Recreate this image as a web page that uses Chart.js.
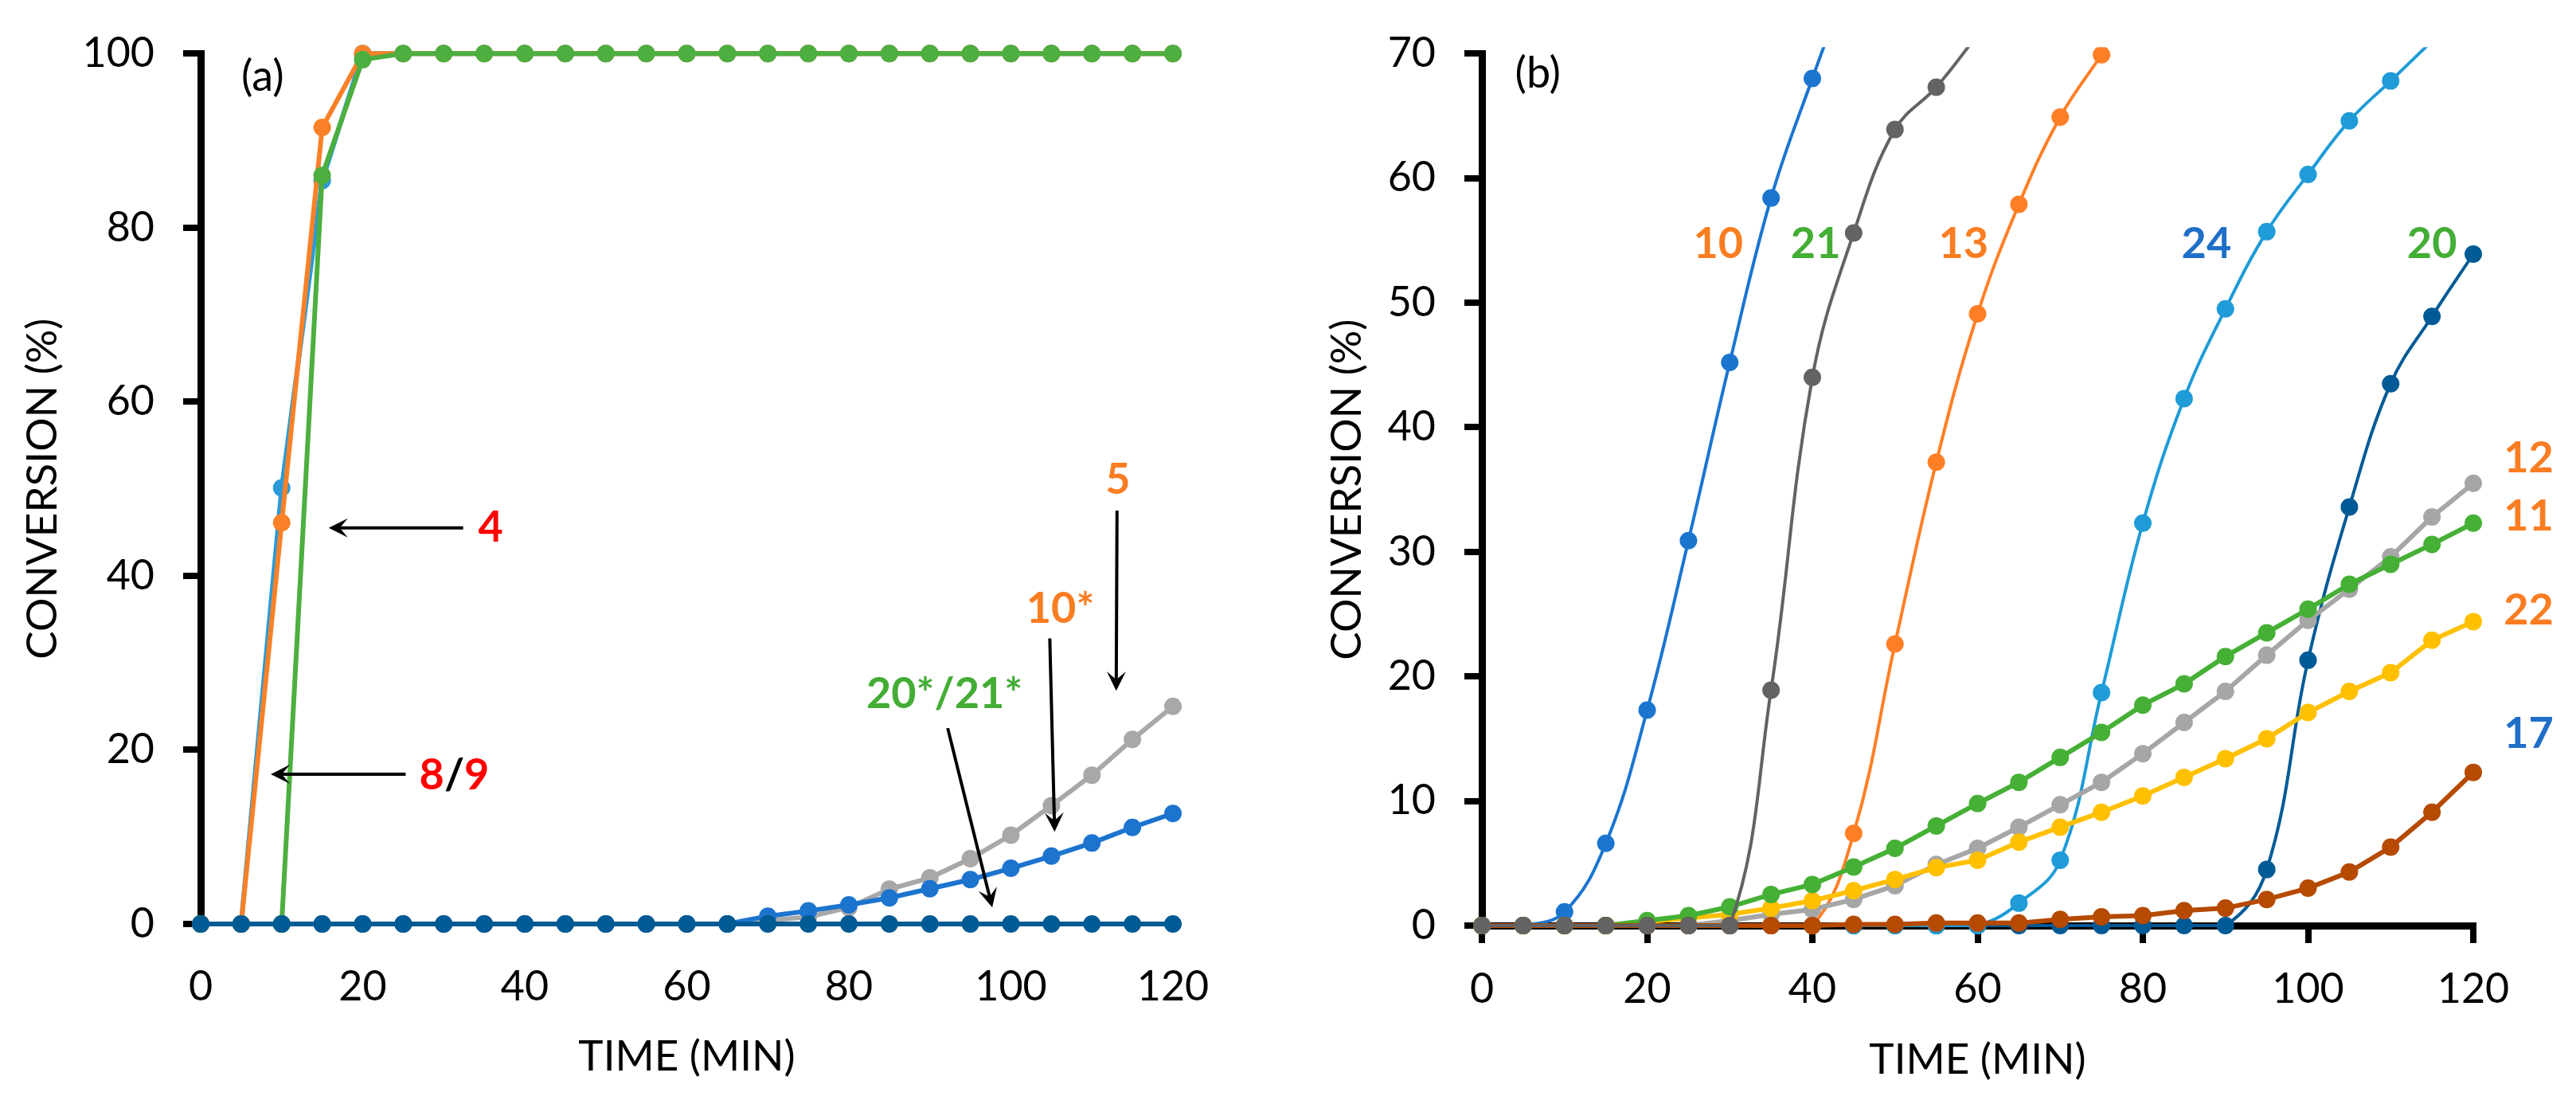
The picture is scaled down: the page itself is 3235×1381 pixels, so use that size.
<!DOCTYPE html>
<html>
<head>
<meta charset="utf-8">
<script src="https://cdn.jsdelivr.net/npm/chart.js@4.4.1/dist/chart.umd.min.js"></script>
<style>
html, body { margin: 0; padding: 0; background: #fff; width: 3235px; height: 1381px; overflow: hidden; }
#wa { position: absolute; left: 0; top: 0; width: 1600px; height: 1381px; }
#wb { position: absolute; left: 1600px; top: 0; width: 1635px; height: 1381px; }
</style>
</head>
<body>
<div id="wa"><canvas id="ca" width="1600" height="1381"></canvas></div>
<div id="wb"><canvas id="cb" width="1635" height="1381"></canvas></div>
<script>
// sampling times (min), shared by both panels
var times = [0,5,10,15,20,25,30,35,40,45,50,55,60,65,70,75,80,85,90,95,100,105,110,115,120];

// panel (a) conversion (%)
var aLightBlue = [0,0,50.1,85.4,100,100,100,100,100,100,100,100,100,100,100,100,100,100,100,100,100,100,100,100,100];
var aOrange    = [0,0,46.1,91.5,100,100,100,100,100,100,100,100,100,100,100,100,100,100,100,100,100,100,100,100,100];
var aGreen     = [0,0,0,86.0,99.3,100,100,100,100,100,100,100,100,100,100,100,100,100,100,100,100,100,100,100,100];
var aGray      = [0,0,0,0,0,0,0,0,0,0,0,0,0,0,0.4,0.8,1.9,4.0,5.3,7.5,10.2,13.6,17.1,21.2,25.0];
var aBlue      = [0,0,0,0,0,0,0,0,0,0,0,0,0,0,0.9,1.5,2.2,3.0,4.05,5.1,6.4,7.8,9.3,11.1,12.7];
var aNavy      = [0,0,0,0,0,0,0,0,0,0,0,0,0,0,0,0,0,0,0,0,0,0,0,0,0];

// panel (b) conversion (%), null = not plotted
var b10 = [0,0,1.1,6.6,17.3,30.9,45.2,58.4,68.0,77,null,null,null,null,null,null,null,null,null,null,null,null,null,null,null];
var b21 = [0,0,0,0,0,0,0,18.9,44.0,55.6,63.9,67.3,71.5,null,null,null,null,null,null,null,null,null,null,null,null];
var b13 = [0,0,0,0,0,0,0,0,0,7.4,22.6,37.2,49.1,57.9,64.9,69.9,null,null,null,null,null,null,null,null,null];
var b24 = [0,0,0,0,0,0,0,0,0,0,0,0,0,1.8,5.25,18.7,32.3,42.3,49.5,55.7,60.3,64.6,67.8,71,null];
var b20 = [0,0,0,0,0,0,0,0,0,0,0,0,0,0,0,0,0,0,0,4.5,21.3,33.6,43.5,48.9,53.9];
var b12 = [0,0,0,0,0,0,0.4,0.9,1.3,2.1,3.2,4.9,6.2,7.9,9.7,11.5,13.8,16.3,18.8,21.7,24.5,27.0,29.6,32.8,35.5];
var b11 = [0,0,0,0,0.4,0.8,1.5,2.5,3.3,4.7,6.2,8.0,9.8,11.5,13.5,15.5,17.7,19.4,21.6,23.5,25.4,27.4,29.0,30.6,32.3];
var b22 = [0,0,0,0,0.3,0.6,0.9,1.4,2.0,2.8,3.7,4.65,5.25,6.7,7.9,9.1,10.4,11.9,13.4,15.0,17.1,18.8,20.3,22.9,24.4];
var b17 = [0,0,0,0,0,0,0,0,0,0.1,0.1,0.2,0.2,0.2,0.5,0.7,0.8,1.2,1.4,2.1,3.0,4.3,6.3,9.1,12.3];

// axis ticks
var xTicks = [0,20,40,60,80,100,120];
var aYTicks = [0,20,40,60,80,100];
var bYTicks = [0,10,20,30,40,50,60,70];

var RED = '#ff0000', ORANGE = '#fa7d22', GREEN = '#43ad35', BLUE = '#1f6fc8';

// text labels: [text parts, x, y, align]
var aLabels = [
  [[['(a)', '#000', 'normal']], 5.0, 97.3, 'left'],
  [[['4', RED, 'bold']], 35.8, 45.5, 'center'],
  [[['8', RED, 'bold'], ['/', '#000', 'bold'], ['9', RED, 'bold']], 31.3, 17.1, 'center'],
  [[['5', ORANGE, 'bold']], 113.2, 51.0, 'center'],
  [[['10*', ORANGE, 'bold']], 106.1, 36.2, 'center'],
  [[['20*/21*', GREEN, 'bold']], 91.8, 26.4, 'center']
];
var aArrows = [
  [32.4, 45.5, 15.8, 45.5],
  [25.3, 17.2, 8.65, 17.2],
  [113.1, 47.5, 113.0, 26.8],
  [104.8, 32.8, 105.4, 10.6],
  [92.2, 22.5, 97.7, 1.9]
];
var bLabels = [
  [[['(b)', '#000', 'normal']], 4.0, 68.4, 'left'],
  [[['10', ORANGE, 'bold']], 28.6, 54.7, 'center'],
  [[['21', GREEN, 'bold']], 40.4, 54.7, 'center'],
  [[['13', ORANGE, 'bold']], 58.3, 54.7, 'center'],
  [[['24', BLUE, 'bold']], 87.7, 54.7, 'center'],
  [[['20', GREEN, 'bold']], 115.0, 54.7, 'center'],
  [[['12', ORANGE, 'bold']], 126.7, 37.5, 'center'],
  [[['11', ORANGE, 'bold']], 126.7, 32.8, 'center'],
  [[['22', ORANGE, 'bold']], 126.7, 25.3, 'center'],
  [[['17', BLUE, 'bold']], 126.7, 15.4, 'center']
];

Chart.defaults.font.family = 'Lato';
Chart.defaults.color = '#000';

function series(vals, color, width, smooth, clip) {
  return {
    data: vals.map(function (v, k) { return { x: times[k], y: v }; }),
    borderColor: color,
    backgroundColor: color,
    borderWidth: width,
    pointRadius: 11,
    pointHoverRadius: 11,
    pointBackgroundColor: color,
    pointBorderWidth: 0,
    tension: smooth ? 0.4 : 0,
    spanGaps: false,
    fill: false,
    clip: clip
  };
}

var notes = {
  id: 'notes',
  afterDatasetsDraw: function (chart, args, opts) {
    var ctx = chart.ctx, xs = chart.scales.x, ys = chart.scales.y;
    ctx.save();
    (opts.arrows || []).forEach(function (a) {
      var x1 = xs.getPixelForValue(a[0]), y1 = ys.getPixelForValue(a[1]);
      var x2 = xs.getPixelForValue(a[2]), y2 = ys.getPixelForValue(a[3]);
      var ang = Math.atan2(y2 - y1, x2 - x1);
      ctx.strokeStyle = '#000';
      ctx.fillStyle = '#000';
      ctx.lineWidth = 4;
      ctx.beginPath();
      ctx.moveTo(x1, y1);
      ctx.lineTo(x2 - 10 * Math.cos(ang), y2 - 10 * Math.sin(ang));
      ctx.stroke();
      ctx.translate(x2, y2);
      ctx.rotate(ang);
      ctx.beginPath();
      ctx.moveTo(0, 0);
      ctx.lineTo(-24, -12);
      ctx.lineTo(-14, 0);
      ctx.lineTo(-24, 12);
      ctx.closePath();
      ctx.fill();
      ctx.setTransform(1, 0, 0, 1, 0, 0);
    });
    ctx.textBaseline = 'middle';
    (opts.labels || []).forEach(function (l) {
      var parts = l[0];
      var px = xs.getPixelForValue(l[1]), py = ys.getPixelForValue(l[2]);
      var total = 0;
      parts.forEach(function (p) {
        ctx.font = p[2] + ' 54px Lato';
        total += ctx.measureText(p[0]).width;
      });
      var cx = l[3] === 'center' ? px - total / 2 : px;
      ctx.textAlign = 'left';
      parts.forEach(function (p) {
        ctx.font = p[2] + ' 54px Lato';
        ctx.fillStyle = p[1];
        ctx.fillText(p[0], cx, py);
        cx += ctx.measureText(p[0]).width;
      });
    });
    ctx.restore();
  }
};

function scales(yTicks, yWidth, xHeight, yTitlePad, xTitlePad, showXAxis) {
  return {
    x: {
      type: 'linear', min: 0, max: 120,
      afterFit: function (s) { s.height = xHeight; },
      afterBuildTicks: function (s) { s.ticks = xTicks.map(function (v) { return { value: v }; }); },
      border: { display: showXAxis, color: '#000', width: 9 },
      grid: { display: showXAxis, drawOnChartArea: false, drawTicks: showXAxis, tickLength: 22, color: '#000', lineWidth: 8 },
      ticks: { font: { size: 52 }, color: '#000', padding: showXAxis ? 27 : 48, maxRotation: 0 },
      title: { display: true, text: 'TIME (MIN)', font: { size: 53 }, color: '#000', padding: { top: 0, bottom: xTitlePad } }
    },
    y: {
      type: 'linear', min: 0, max: yTicks[yTicks.length - 1],
      afterFit: function (s) { s.width = yWidth; },
      afterBuildTicks: function (s) { s.ticks = yTicks.map(function (v) { return { value: v }; }); },
      border: { display: true, color: '#000', width: 9 },
      grid: { drawOnChartArea: false, drawTicks: true, tickLength: 22, color: '#000', lineWidth: 8 },
      ticks: { font: { size: 52 }, color: '#000', padding: 36 },
      title: { display: true, text: 'CONVERSION (%)', font: { size: 53 }, color: '#000', padding: { top: yTitlePad, bottom: 0 } }
    }
  };
}

// nudge layout padding until the plot area sits where the reference has it
function placeArea(chart, want) {
  var pad = chart.options.layout.padding;
  for (var k = 0; k < 5; k++) {
    var a = chart.chartArea;
    pad.top += want.top - a.top;
    pad.right += a.right - want.right;
    pad.left += want.left - a.left;
    pad.bottom += a.bottom - want.bottom;
    chart.update('none');
  }
}

var chartA = new Chart(document.getElementById('ca'), {
  type: 'line',
  data: {
    datasets: [
      series(aNavy, '#005a94', 6, false, false),
      series(aGreen, '#4caf3f', 6, false, false),
      series(aOrange, '#fa8128', 6, false, false),
      series(aLightBlue, '#2a9bd8', 6, false, false),
      series(aBlue, '#1d74cf', 6, false, false),
      series(aGray, '#a8a8a8', 6, false, false)
    ]
  },
  options: {
    responsive: false,
    animation: false,
    devicePixelRatio: 1,
    layout: { padding: { left: 0, top: 43, right: 127, bottom: 0 } },
    scales: scales(aYTicks, 252, 221, 22, 22, false),
    plugins: {
      legend: { display: false },
      tooltip: { enabled: false },
      notes: { labels: aLabels, arrows: aArrows }
    }
  },
  plugins: [notes]
});
placeArea(chartA, { left: 252, right: 1473, top: 43, bottom: 1160 });

var topClip = { left: false, right: false, bottom: false, top: 8 };
var chartB = new Chart(document.getElementById('cb'), {
  type: 'line',
  data: {
    datasets: [
      series(b21, '#636363', 4, true, topClip),
      series(b17, '#b54a00', 6, false, topClip),
      series(b11, '#45b035', 6, false, topClip),
      series(b22, '#ffc000', 6, false, topClip),
      series(b12, '#a6a6a6', 6, false, topClip),
      series(b10, '#1b75cf', 4, true, topClip),
      series(b13, '#ff7f27', 4, true, topClip),
      series(b24, '#1f9bd7', 4, true, topClip),
      series(b20, '#005a96', 4, true, topClip)
    ]
  },
  options: {
    responsive: false,
    animation: false,
    devicePixelRatio: 1,
    layout: { padding: { left: 0, top: 46, right: 129, bottom: 0 } },
    scales: scales(bYTicks, 261, 219, 60, 18, true),
    plugins: {
      legend: { display: false },
      tooltip: { enabled: false },
      notes: { labels: bLabels, arrows: [] }
    }
  },
  plugins: [notes]
});
placeArea(chartB, { left: 261, right: 1506, top: 46, bottom: 1162 });
</script>
</body>
</html>
